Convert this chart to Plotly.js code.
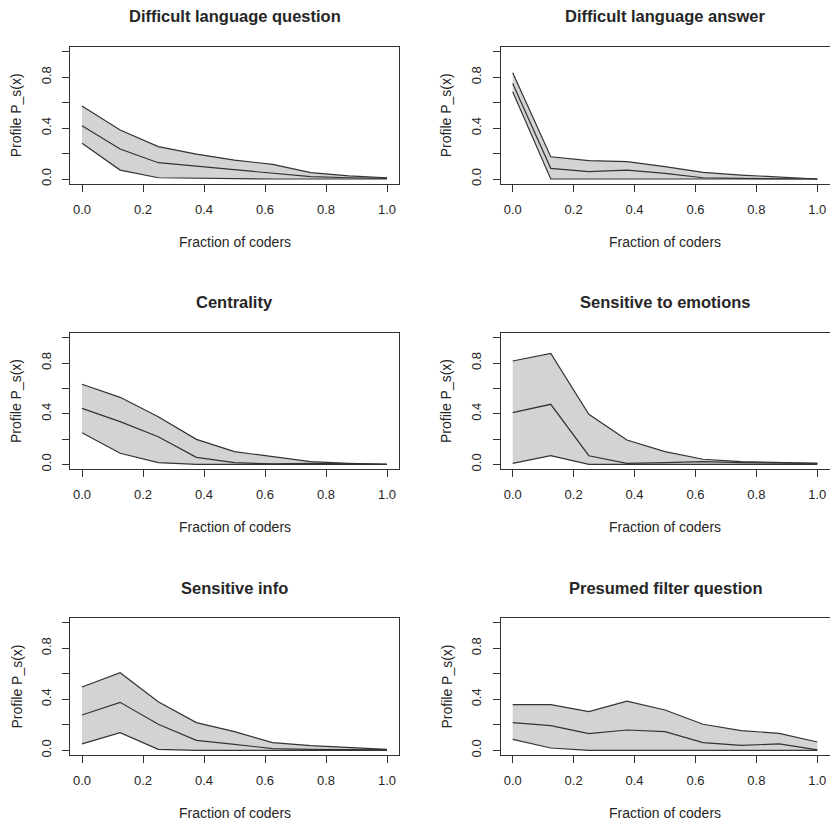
<!DOCTYPE html>
<html>
<head>
<meta charset="utf-8">
<script src="https://cdn.plot.ly/plotly-3.0.1.min.js"></script>
<style>html,body{margin:0;padding:0;background:#fff}#chart{width:830px;height:823px}</style>
</head>
<body>
<div id="chart"></div>
<script>
// ---- data ----
var coderFrac = [0, 0.125, 0.25, 0.375, 0.5, 0.625, 0.75, 0.875, 1.0];

var panelTitles = ["Difficult language question", "Difficult language answer", "Centrality",
                   "Sensitive to emotions", "Sensitive info", "Presumed filter question"];

var dlqUpper = [0.573, 0.385, 0.254, 0.196, 0.149, 0.115, 0.050, 0.024, 0.010];
var dlqMid   = [0.419, 0.236, 0.128, 0.100, 0.070, 0.045, 0.018, 0.010, 0.005];
var dlqLower = [0.280, 0.070, 0.010, 0.005, 0.000, 0.000, 0.000, 0.000, 0.000];

var dlaUpper = [0.835, 0.175, 0.144, 0.136, 0.097, 0.052, 0.031, 0.013, 0.000];
var dlaMid   = [0.750, 0.084, 0.058, 0.070, 0.045, 0.010, 0.005, 0.005, 0.000];
var dlaLower = [0.686, 0.000, 0.000, 0.000, 0.000, 0.000, 0.000, 0.000, 0.000];

var cenUpper = [0.632, 0.529, 0.376, 0.197, 0.100, 0.060, 0.021, 0.008, 0.000];
var cenMid   = [0.442, 0.337, 0.218, 0.055, 0.013, 0.003, 0.008, 0.005, 0.000];
var cenLower = [0.250, 0.087, 0.013, 0.000, 0.000, 0.000, 0.000, 0.000, 0.000];

var emoUpper = [0.816, 0.876, 0.395, 0.192, 0.100, 0.040, 0.021, 0.013, 0.008];
var emoMid   = [0.408, 0.474, 0.068, 0.008, 0.013, 0.021, 0.013, 0.008, 0.008];
var emoLower = [0.008, 0.068, 0.000, 0.000, 0.000, 0.000, 0.000, 0.000, 0.000];

var infUpper = [0.496, 0.608, 0.381, 0.217, 0.146, 0.060, 0.037, 0.023, 0.008];
var infMid   = [0.277, 0.376, 0.204, 0.078, 0.047, 0.013, 0.008, 0.008, 0.003];
var infLower = [0.050, 0.138, 0.008, 0.000, 0.000, 0.000, 0.000, 0.000, 0.000];

var filUpper = [0.358, 0.358, 0.303, 0.386, 0.316, 0.204, 0.154, 0.133, 0.065];
var filMid   = [0.217, 0.193, 0.131, 0.159, 0.146, 0.060, 0.039, 0.050, 0.003];
var filLower = [0.086, 0.018, 0.000, 0.000, 0.000, 0.000, 0.000, 0.000, 0.000];

var xTickVals = [0, 0.2, 0.4, 0.6, 0.8, 1.0];
var xTickText = ["0.0", "0.2", "0.4", "0.6", "0.8", "1.0"];
var yTickVals = [0, 0.2, 0.4, 0.6, 0.8, 1.0];
var yTickText = ["0.0", "", "0.4", "", "0.8", ""];
var xLabel = "Fraction of coders";
var yLabel = "Profile P_s(x)";

var bands = [
  [dlqLower, dlqMid, dlqUpper], [dlaLower, dlaMid, dlaUpper],
  [cenLower, cenMid, cenUpper], [emoLower, emoMid, emoUpper],
  [infLower, infMid, infUpper], [filLower, filMid, filUpper]
];

// ---- layout geometry (pixels) ----
var W = 830, H = 823;
var colPx = [[69.8, 399.2], [500.5, 829.5]];
var rowPx = [[46.6, 184.1], [332.6, 469.4], [617.6, 755.4]];
var titleY = [16, 302, 588];
var xTitleY = [242, 527, 813];
var yTitleX = [16, 446];

var FONT = "Liberation Sans, Arial, Helvetica, sans-serif";
var lineCol = "#333333";
var fillCol = "#d3d3d3";
var textCol = "#262626";

var traces = [];
var layout = {
  width: W, height: H,
  margin: {l: 0, r: 0, t: 0, b: 0},
  paper_bgcolor: "#ffffff", plot_bgcolor: "#ffffff",
  showlegend: false,
  font: {family: FONT, size: 13, color: textCol},
  annotations: []
};

for (var i = 0; i < 6; i++) {
  var r = Math.floor(i / 2), c = i % 2;
  var ax = i === 0 ? "" : String(i + 1);
  var xa = "x" + ax, ya = "y" + ax;
  var b = bands[i];
  traces.push({x: coderFrac, y: b[0], xaxis: xa, yaxis: ya, type: "scatter", mode: "lines",
               line: {color: lineCol, width: 1.2}, hoverinfo: "skip"});
  traces.push({x: coderFrac, y: b[2], xaxis: xa, yaxis: ya, type: "scatter", mode: "lines",
               fill: "tonexty", fillcolor: fillCol, line: {color: lineCol, width: 1.2}, hoverinfo: "skip"});
  traces.push({x: coderFrac, y: b[1], xaxis: xa, yaxis: ya, type: "scatter", mode: "lines",
               line: {color: lineCol, width: 1.2}, hoverinfo: "skip"});

  var xd = [colPx[c][0] / W, colPx[c][1] / W];
  var yd = [1 - rowPx[r][1] / H, 1 - rowPx[r][0] / H];
  layout["xaxis" + ax] = {
    domain: xd, anchor: ya, range: [-0.04, 1.04],
    tickvals: xTickVals, ticktext: xTickText, ticks: "outside", ticklen: 7, tickwidth: 1, tickcolor: lineCol,
    ticklabelstandoff: 6,
    showline: true, mirror: true, linecolor: lineCol, linewidth: 1,
    showgrid: false, zeroline: false, fixedrange: true,
    tickfont: {family: FONT, size: 13, color: textCol}
  };
  layout["yaxis" + ax] = {
    domain: yd, anchor: xa, range: [-0.04, 1.04],
    tickvals: yTickVals, ticktext: yTickText, ticks: "outside", ticklen: 7, tickwidth: 1, tickcolor: lineCol,
    tickangle: -90, ticklabelstandoff: 6,
    showline: true, mirror: true, linecolor: lineCol, linewidth: 1,
    showgrid: false, zeroline: false, fixedrange: true,
    tickfont: {family: FONT, size: 13, color: textCol}
  };
  var cx = (colPx[c][0] + colPx[c][1]) / 2;
  var cy = (rowPx[r][0] + rowPx[r][1]) / 2;
  layout.annotations.push({text: "<b>" + panelTitles[i] + "</b>", xref: "paper", yref: "paper",
    x: cx / W, y: 1 - titleY[r] / H, xanchor: "center", yanchor: "middle", showarrow: false,
    font: {family: FONT, size: 16.5, color: textCol}});
  layout.annotations.push({text: xLabel, xref: "paper", yref: "paper",
    x: cx / W, y: 1 - xTitleY[r] / H, xanchor: "center", yanchor: "middle", showarrow: false,
    font: {family: FONT, size: 14, color: textCol}});
  layout.annotations.push({text: yLabel, xref: "paper", yref: "paper", textangle: -90,
    x: yTitleX[c] / W, y: 1 - cy / H, xanchor: "center", yanchor: "middle", showarrow: false,
    font: {family: FONT, size: 14, color: textCol}});
}

Plotly.newPlot("chart", traces, layout, {staticPlot: true, displayModeBar: false});
</script>
</body>
</html>
